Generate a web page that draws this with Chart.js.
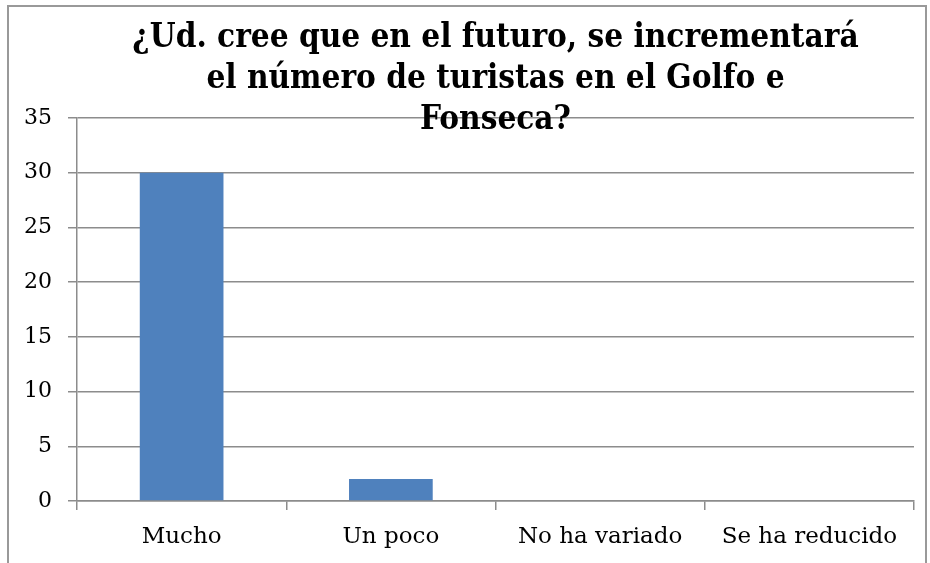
<!DOCTYPE html>
<html>
<head>
<meta charset="utf-8">
<script src="https://cdn.jsdelivr.net/npm/chart.js@4.4.0/dist/chart.umd.min.js"></script>
<style>
    body { margin: 0; background: #fff; }
    #wrap { position: relative; width: 930px; height: 563px; overflow: hidden; }
    #frame { position: absolute; left: 7px; top: 5px; width: 916px; height: 600px; border: 2px solid #999; }
    #chart { position: absolute; left: 0; top: 0; }
</style>
</head>
<body>
<div id="wrap">
    <div id="frame"></div>
    <canvas id="chart" width="930" height="563"></canvas>
</div>
<script>
// datos
var categorias = ['Mucho', 'Un poco', 'No ha variado', 'Se ha reducido'];
var respuestas = [30, 2, 0, 0];
var titulo = ['¿Ud. cree que en el futuro, se incrementará', 'el número de turistas en el Golfo e', 'Fonseca?'];
var yMax = 35;
var yPaso = 5;

var serif = "'DejaVu Serif', serif";
var gris = '#8c8c8c';

window.onload = function () {
    var ctx = document.getElementById('chart');
    var myBarChart = new Chart(ctx, {
        type: 'bar',
        data: {
            labels: categorias,
            datasets: [{
                data: respuestas,
                backgroundColor: '#4F81BD',
                borderWidth: 0,
                barPercentage: 0.4,
                categoryPercentage: 1
            }]
        },
        options: {
            responsive: false,
            animation: false,
            layout: { padding: { left: 0, right: 16, top: 0, bottom: 0 } },
            plugins: {
                legend: { display: false },
                tooltip: { enabled: false },
                title: {
                    display: true,
                    fullSize: false,
                    text: titulo,
                    color: '#000',
                    font: { family: "'DejaVu Serif Condensed', 'DejaVu Serif', serif", size: 33, weight: 'bold', lineHeight: 41 / 33 },
                    padding: { top: 18, bottom: -23 }
                }
            },
            scales: {
                x: {
                    offset: true,
                    grid: { display: true, drawOnChartArea: false, drawTicks: true, tickLength: 9, color: gris, lineWidth: 1.5, offset: true },
                    border: { display: true, color: gris, width: 1.5 },
                    ticks: { color: '#000', font: { family: serif, size: 23 }, padding: 13, maxRotation: 0 },
                    afterFit: function (scale) { scale.height = 62; }
                },
                y: {
                    min: 0,
                    max: yMax,
                    ticks: { stepSize: yPaso, color: '#000', font: { family: serif, size: 22 }, padding: 16 },
                    grid: { color: gris, lineWidth: 1.5, tickLength: 9 },
                    border: { display: true, color: gris, width: 1.5 },
                    afterFit: function (scale) { scale.width = 77; }
                }
            }
        }
    });
}
</script>
</body>
</html>
